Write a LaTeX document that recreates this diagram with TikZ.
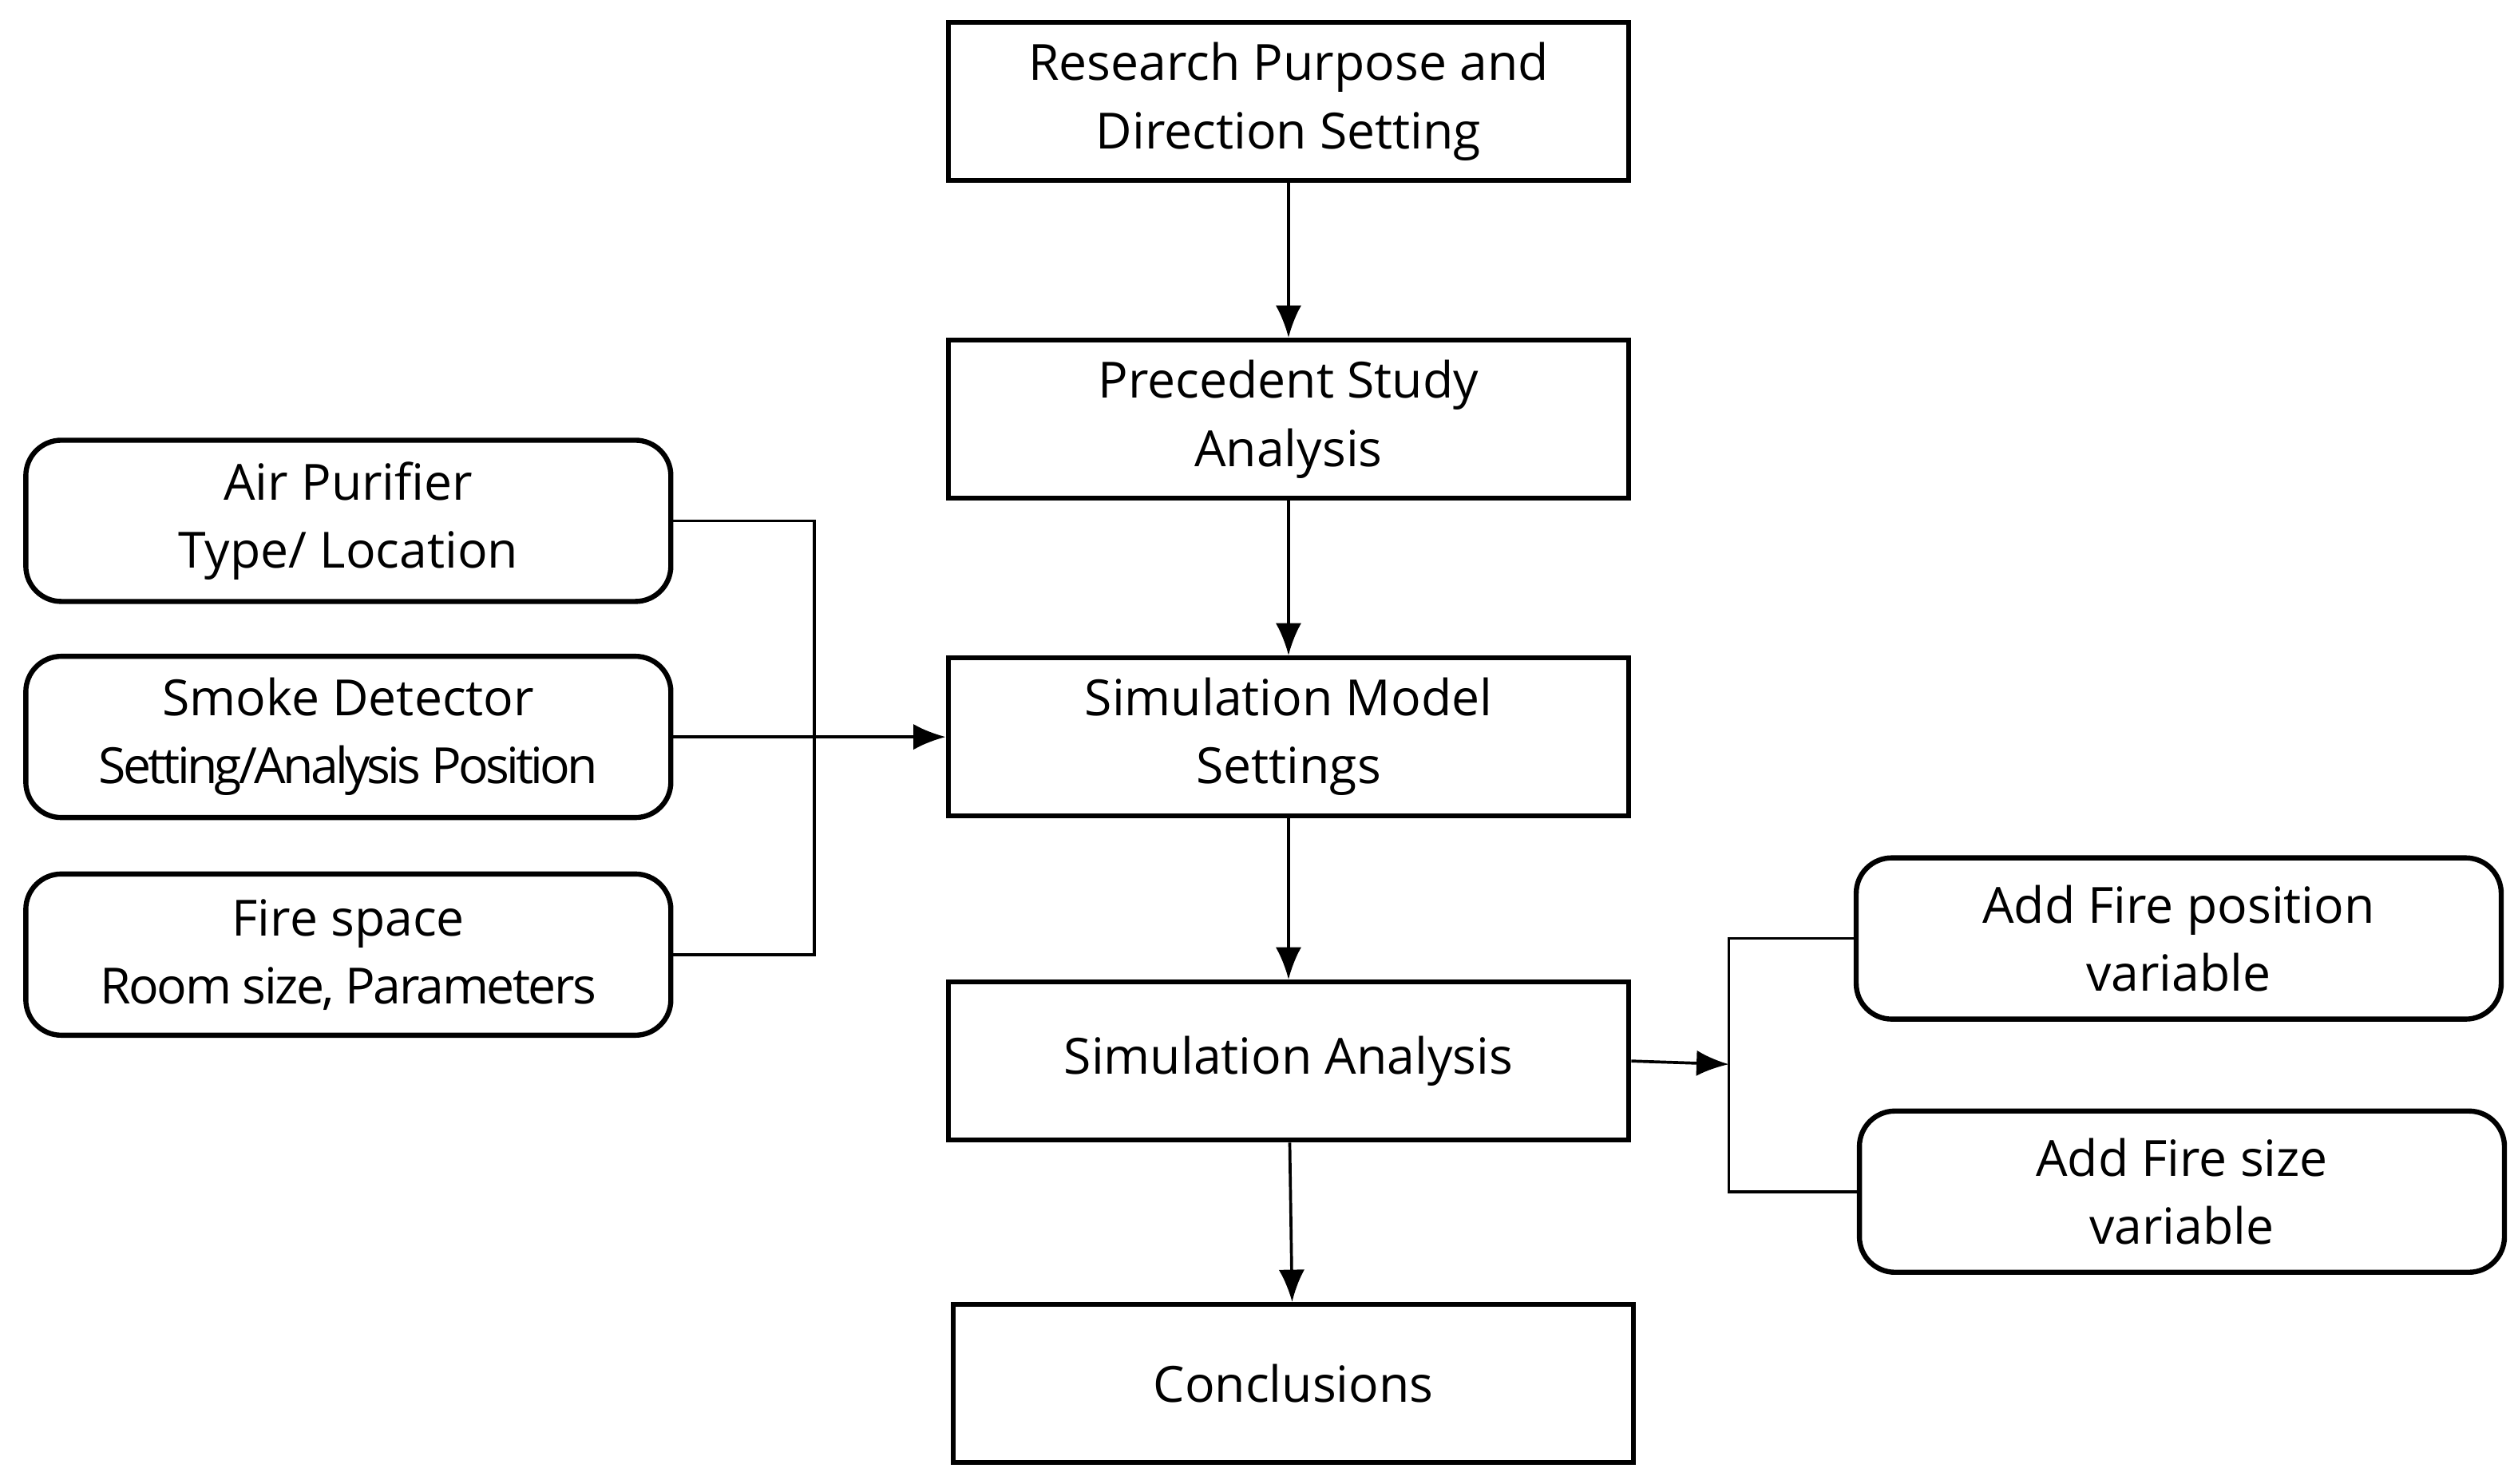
\documentclass[tikz,border=0pt]{standalone}
\usepackage{fontspec}
\setmainfont{Open Sans}
\usetikzlibrary{arrows.meta}
\begin{document}
\begin{tikzpicture}[x=0.05cm,y=-0.05cm,
  box/.style={draw,line width=4.5pt,inner sep=0pt,align=center,font=\fontsize{44}{60}\selectfont},
  sq/.style={box,minimum width=21.1cm,minimum height=4.9cm},
  rd/.style={box,rounded corners=1.1cm,minimum width=20cm,minimum height=5cm},
  ln/.style={line width=2.6pt},
  ar/.style={ln,-{Latex[length=1cm,width=0.8cm]}}]
\useasboundingbox (0,0) rectangle (1561.4,920.3);
\node[sq] (rp) at (799,63) {Research Purpose and\\Direction Setting};
\node[sq] (ps) at (799,260) {Precedent Study\\Analysis};
\node[sq] (sm) at (799,457) {Simulation Model\\Settings};
\node[sq] (sa) at (799,658) {Simulation Analysis};
\node[sq] (co) at (802,858) {Conclusions};
\node[rd] (ap) at (216,323) {Air Purifier\\Type/ Location};
\node[rd] (sd) at (216,457) {Smoke Detector\\{\addfontfeature{LetterSpace=-6}Setting/Analysis Position}};
\node[rd] (fs) at (216,592) {Fire space\\{\addfontfeature{LetterSpace=-4}Room size, Parameters}};
\node[rd] (fp) at (1351,582) {Add Fire position\\variable};
\node[rd] (fz) at (1353,739) {Add Fire size\\variable};
\draw[ar] (rp) -- (ps);
\draw[ar] (ps) -- (sm);
\draw[ar] (sm) -- (sa);
\draw[ar] (sa) -- (co);
\coordinate (lb) at (505,457);
\draw[ln] (ap.east) -| (lb) |- (fs.east);
\draw[ar] (sd.east) -- (sm.west);
\coordinate (rb) at (1072,660);
\draw[ar] (sa.east) -- (rb);
\draw[ln] (fp.west) -| (rb) |- (fz.west);
\end{tikzpicture}
\end{document}
